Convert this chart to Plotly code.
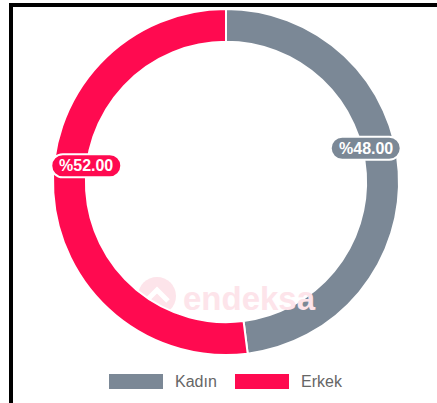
import math
import plotly.graph_objects as go

# data
labels = ["Kadın", "Erkek"]
values = [48, 52]
colors = ["#7b8896", "#ff0a50"]

W, H = 437, 403
cx, cy, R = 226, 182, 173      # donut centre / outer radius (px)
hole = 0.81
label_r, label_lift = 140, 25  # where the percent pills sit


def px(x):
    return x / W


def py(y):
    return 1 - y / H


def pill_path(x, y, w, h):
    r = h / 2
    k = 0.5523 * r
    x1, x2 = x - w / 2 + r, x + w / 2 - r
    pts = [
        ("M", [(x1, y - r)]),
        ("L", [(x2, y - r)]),
        ("C", [(x2 + k, y - r), (x2 + r, y - k), (x2 + r, y)]),
        ("C", [(x2 + r, y + k), (x2 + k, y + r), (x2, y + r)]),
        ("L", [(x1, y + r)]),
        ("C", [(x1 - k, y + r), (x1 - r, y + k), (x1 - r, y)]),
        ("C", [(x1 - r, y - k), (x1 - k, y - r), (x1, y - r)]),
    ]
    s = ""
    for cmd, p in pts:
        s += cmd + " " + " ".join(f"{px(a):.5f},{py(b):.5f}" for a, b in p) + " "
    return s + "Z"


fig = go.Figure()
fig.add_trace(go.Pie(
    labels=labels, values=values, sort=False, direction="clockwise", rotation=0,
    hole=hole, textinfo="none", hoverinfo="label+percent", showlegend=False,
    marker=dict(colors=colors, line=dict(color="white", width=2)),
    domain=dict(x=[px(cx - R), px(cx + R)], y=[py(cy + R), py(cy - R)]),
))

shapes = []
annotations = []

# watermark
wm = "#fde4ea"
shapes.append(dict(type="circle", xref="paper", yref="paper", layer="below",
                   x0=px(138), x1=px(176), y0=py(315), y1=py(277),
                   fillcolor=wm, line=dict(width=0)))
shapes.append(dict(type="path", xref="paper", yref="paper", layer="below",
                   path=f"M {px(146)},{py(301)} L {px(157)},{py(290)} L {px(168)},{py(301)}",
                   line=dict(color="white", width=5)))
annotations.append(dict(x=px(249), y=py(298), xref="paper", yref="paper", showarrow=False,
                        xanchor="center", yanchor="middle", text="<b>endeksa</b>",
                        font=dict(size=33, color=wm, family="Liberation Sans")))

# percent pills
total = sum(values)
start = 0
for lab, v, c in zip(labels, values, colors):
    mid = (start + v / 2) / total * 2 * math.pi
    start += v
    x = cx + label_r * math.sin(mid)
    y = cy - label_r * math.cos(mid) - label_lift
    shapes.append(dict(type="path", xref="paper", yref="paper", path=pill_path(x, y, 70, 23),
                       fillcolor=c, line=dict(color="white", width=2)))
    annotations.append(dict(x=px(x), y=py(y), xref="paper", yref="paper", showarrow=False,
                            xanchor="center", yanchor="middle",
                            text=f"<b>%{v / total * 100:.2f}</b>",
                            font=dict(size=16, color="white", family="Liberation Sans")))

# legend
lx = 109
for lab, c in zip(labels, colors):
    shapes.append(dict(type="rect", xref="paper", yref="paper",
                       x0=px(lx), x1=px(lx + 54), y0=py(389), y1=py(374),
                       fillcolor=c, line=dict(width=0)))
    annotations.append(dict(x=px(lx + 64), y=py(381), xref="paper", yref="paper",
                            xanchor="left", yanchor="middle", showarrow=False, text=lab,
                            font=dict(size=16, color="#666666", family="Liberation Sans")))
    lx += 126

# frame edges (top and left)
shapes.append(dict(type="rect", xref="paper", yref="paper", x0=px(9), x1=1, y0=py(7), y1=py(3),
                   fillcolor="black", line=dict(width=0)))
shapes.append(dict(type="rect", xref="paper", yref="paper", x0=px(9), x1=px(13), y0=0, y1=py(3),
                   fillcolor="black", line=dict(width=0)))

fig.update_layout(width=W, height=H, margin=dict(l=0, r=0, t=0, b=0),
                  paper_bgcolor="white", plot_bgcolor="white",
                  shapes=shapes, annotations=annotations)

fig.write_html("out.html", config={"displayModeBar": False},
               post_script="document.body.style.margin='0';")
